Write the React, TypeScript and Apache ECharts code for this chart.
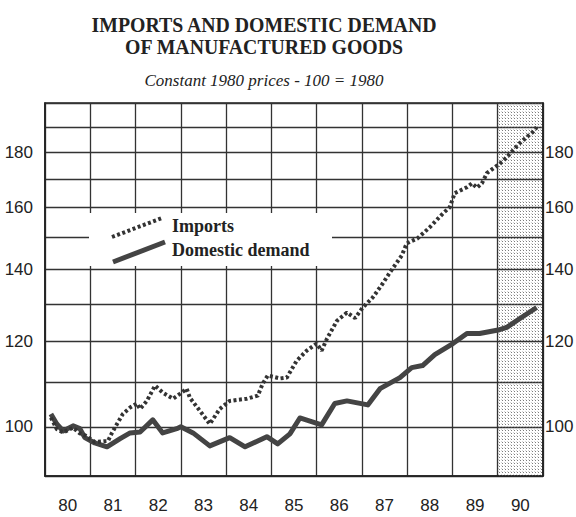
import React, { useEffect, useRef } from "react";
import * as echarts from "echarts";

const domesticT = [1980.13, 1980.26, 1980.4, 1980.62, 1980.77, 1980.88, 1981.1, 1981.37, 1981.66, 1981.88, 1982.1, 1982.38, 1982.6, 1982.91, 1983.0, 1983.27, 1983.64, 1984.08, 1984.42, 1984.9, 1985.14, 1985.41, 1985.63, 1986.11, 1986.4, 1986.67, 1987.13, 1987.4, 1987.84, 1988.1, 1988.34, 1988.61, 1989.01, 1989.32, 1989.6, 1990.04, 1990.2, 1990.49, 1990.86];
const domesticV = [102.8, 100.6, 99.1, 100.2, 99.6, 97.7, 96.6, 95.8, 97.5, 98.7, 98.9, 101.5, 98.7, 99.6, 100.0, 98.7, 96.0, 97.7, 95.8, 97.9, 96.4, 98.5, 101.9, 100.4, 105.1, 105.7, 104.8, 108.5, 111.1, 113.5, 114.0, 116.7, 119.5, 122.1, 122.1, 123.1, 123.7, 126.1, 129.1];

const importsT = [1980.13, 1980.26, 1980.4, 1980.62, 1980.77, 1980.88, 1981.1, 1981.39, 1981.48, 1981.59, 1981.72, 1981.88, 1982.03, 1982.1, 1982.25, 1982.43, 1982.6, 1982.83, 1982.98, 1983.13, 1983.2, 1983.42, 1983.64, 1983.86, 1984.08, 1984.46, 1984.7, 1984.81, 1984.92, 1985.19, 1985.34, 1985.56, 1985.78, 1986.0, 1986.11, 1986.23, 1986.45, 1986.67, 1986.85, 1987.02, 1987.24, 1987.46, 1987.62, 1987.88, 1987.99, 1988.23, 1988.5, 1988.79, 1988.94, 1989.05, 1989.32, 1989.43, 1989.54, 1989.65, 1989.76, 1990.11, 1990.49, 1990.77, 1990.86];
const importsV = [102.0, 99.5, 98.8, 99.8, 98.6, 98.2, 96.8, 97.0, 98.7, 100.6, 102.8, 104.2, 105.1, 103.9, 105.7, 109.2, 107.6, 106.2, 107.3, 108.5, 106.4, 103.5, 100.6, 103.9, 105.7, 106.2, 106.9, 109.7, 111.6, 110.9, 111.1, 115.2, 117.7, 119.5, 117.7, 120.8, 125.5, 127.7, 126.2, 129.1, 131.9, 135.9, 139.2, 144.3, 148.1, 149.7, 153.3, 157.9, 160.0, 164.9, 167.0, 168.4, 166.8, 168.4, 172.1, 176.5, 183.6, 187.9, 189.9];

const gridValues = [90, 100, 110, 120, 130, 140, 150, 160, 170, 180, 190, 200];
const yLabelValues = [100, 120, 140, 160, 180];
const yearLabelPos = [1980.5, 1981.5, 1982.5, 1983.5, 1984.5, 1985.5, 1986.5, 1987.5, 1988.5, 1989.5, 1990.5];
const forecastRange = [1990, 1991];

const titleLines = ["IMPORTS AND DOMESTIC DEMAND", "OF MANUFACTURED GOODS"];
const subtitle = "Constant 1980 prices - 100 = 1980";
const legendNames = ["Imports", "Domestic demand"];

function makePattern() {
  const c = document.createElement("canvas");
  c.width = 3;
  c.height = 3;
  const ctx = c.getContext("2d");
  if (ctx) {
    ctx.fillStyle = "rgba(80,80,80,0.75)";
    ctx.fillRect(1, 1, 1, 1);
    ctx.fillStyle = "rgba(80,80,80,0.25)";
    ctx.fillRect(0, 0, 1, 1);
  }
  return { image: c, repeat: "repeat" };
}

export default function App() {
  const ref = useRef<HTMLDivElement>(null);
  useEffect(() => {
    if (!ref.current) return;
    const chart = echarts.init(ref.current, null, { renderer: "svg" });
    const labelFont = "'Liberation Sans', Arial, sans-serif";
    const serif = "'Liberation Serif', 'Times New Roman', serif";
    const yAxisBase = {
      type: "log",
      logBase: 10,
      min: 90,
      max: 200,
      axisLine: { show: true, lineStyle: { color: "#222", width: 1.6 } },
      axisTick: { show: false, customValues: gridValues },
      axisLabel: {
        customValues: yLabelValues,
        fontSize: 17,
        color: "#222",
        fontFamily: labelFont,
      },
    };
    chart.setOption({
      animation: false,
      backgroundColor: "#fff",
      grid: { left: 45, right: 33, top: 103, bottom: 41, show: true, borderColor: "#222", borderWidth: 1.6, outerBoundsMode: "none", containLabel: false },
      xAxis: {
        type: "value",
        min: 1980,
        max: 1991,
        interval: 1,
        axisLine: { show: true, lineStyle: { color: "#222", width: 1.6 } },
        axisTick: { show: false },
        splitLine: { show: true, lineStyle: { color: "#333", width: 1.3 } },
        axisLabel: {
          customValues: yearLabelPos,
          formatter: (v: number) => String(Math.floor(v) - 1900),
          fontSize: 17,
          color: "#222",
          margin: 21,
          fontFamily: labelFont,
        },
      },
      yAxis: [
        {
          ...yAxisBase,
          position: "left",
          splitLine: { show: true, lineStyle: { color: "#333", width: 1.3 } },
          axisLabel: { ...yAxisBase.axisLabel, margin: 12 },
        },
        {
          ...yAxisBase,
          position: "right",
          splitLine: { show: false },
          axisLabel: { ...yAxisBase.axisLabel, margin: 2 },
        },
      ],
      graphic: [
        { type: "text", x: 264, y: 25, scaleX: 0.9, style: { text: titleLines[0], font: `bold 22px ${serif}`, fill: "#222", textAlign: "center", textVerticalAlign: "middle" } },
        { type: "text", x: 264, y: 47, scaleX: 0.9, style: { text: titleLines[1], font: `bold 22px ${serif}`, fill: "#222", textAlign: "center", textVerticalAlign: "middle" } },
        { type: "text", x: 264, y: 80, style: { text: subtitle, font: `italic 17px ${serif}`, fill: "#222", textAlign: "center", textVerticalAlign: "middle" } },
        { type: "rect", z: 50, shape: { x: 89, y: 213, width: 243, height: 53 }, style: { fill: "#fff" } },
        { type: "line", z: 51, shape: { x1: 112, y1: 237, x2: 162, y2: 218 }, style: { stroke: "#333", lineWidth: 4, lineDash: [3, 2.5] } },
        { type: "line", z: 51, shape: { x1: 113, y1: 262, x2: 165, y2: 242 }, style: { stroke: "#444", lineWidth: 5 } },
        { type: "text", z: 51, x: 172, y: 226, style: { text: legendNames[0], font: `bold 18px ${serif}`, fill: "#222", textVerticalAlign: "middle" } },
        { type: "text", z: 51, x: 172, y: 250, style: { text: legendNames[1], font: `bold 18px ${serif}`, fill: "#222", textVerticalAlign: "middle" } },
      ],
      series: [
        {
          name: legendNames[1],
          type: "line",
          data: domesticT.map((t, i) => [t, domesticV[i]]),
          showSymbol: false,
          lineStyle: { color: "#444", width: 5, join: "round" },
          markArea: {
            silent: true,
            itemStyle: { color: makePattern() },
            data: [[{ xAxis: forecastRange[0] }, { xAxis: forecastRange[1] }]],
          },
        },
        {
          name: legendNames[0],
          type: "line",
          data: importsT.map((t, i) => [t, importsV[i]]),
          showSymbol: false,
          lineStyle: { color: "#333", width: 4, type: [3, 2.5] },
        },
      ],
    });
    return () => chart.dispose();
  }, []);
  return <div ref={ref} style={{ position: "fixed", left: 0, top: 0, width: 576, height: 517 }} />;
}
